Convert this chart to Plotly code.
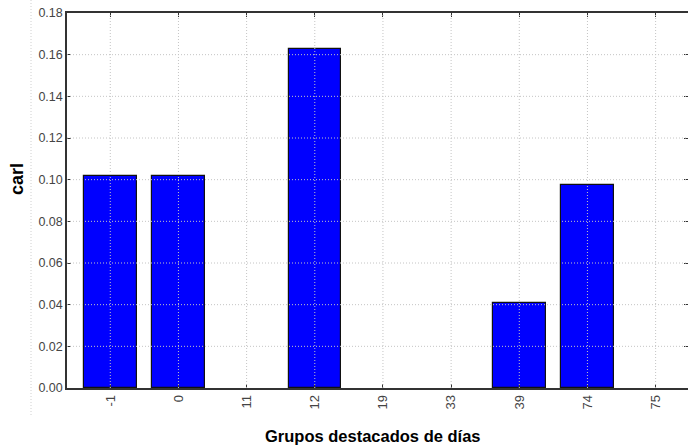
import plotly.graph_objects as go

categories = ["-1", "0", "11", "12", "19", "33", "39", "74", "75"]
values = [0.102, 0.102, 0.0, 0.1625, 0.0, 0.0, 0.0408, 0.0975, 0.0]
y_ticks = [0.00, 0.02, 0.04, 0.06, 0.08, 0.10, 0.12, 0.14, 0.16, 0.18]
y_tick_labels = ["%.2f" % v for v in y_ticks]

W, H = 688, 447
ML, MT, MB, MR = 67, 13, 59, 0
PW = W - ML - MR
PH = H - MT - MB

fig = go.Figure()
fig.add_trace(go.Bar(
    x=list(range(len(categories))), y=values, width=0.77,
    marker=dict(color="#0000ff",
                line=dict(color="#111111", width=[1.2 if v > 0 else 0 for v in values])),
))

grid_col = "#c4c4c4"
dot = "1px,2px"
shapes = []
for v in y_ticks[1:-1]:
    shapes.append(dict(type="line", xref="paper", yref="y", x0=0, x1=1, y0=v, y1=v,
                       line=dict(color=grid_col, width=1, dash=dot), layer="above"))
for i in range(len(categories)):
    shapes.append(dict(type="line", xref="x", yref="paper", x0=i, x1=i, y0=0, y1=1,
                       line=dict(color=grid_col, width=1, dash=dot), layer="above"))
# faint dotted border line at the left of the figure
shapes.append(dict(type="line", xref="paper", yref="paper",
                   x0=(31 - ML) / PW, x1=(31 - ML) / PW,
                   y0=1 + MT / PH, y1=-(415 - (MT + PH)) / PH,
                   line=dict(color="#d0d0d0", width=1, dash=dot), layer="above"))

axis_common = dict(showline=True, linecolor="#333333", linewidth=1.5, mirror="ticks",
                   ticks="inside", ticklen=4, tickcolor="#333333", showgrid=False,
                   zeroline=False)

fig.update_layout(
    width=W, height=H,
    margin=dict(l=ML, r=MR, t=MT, b=MB, autoexpand=False),
    plot_bgcolor="white", paper_bgcolor="white",
    showlegend=False, bargap=0,
    shapes=shapes,
    xaxis=dict(axis_common, range=[-0.635, 8.475], tickmode="array",
               tickvals=list(range(len(categories))), ticktext=categories, tickangle=-90,
               tickfont=dict(family="Liberation Sans, Arial, sans-serif", size=13, color="#444444")),
    yaxis=dict(axis_common, range=[0, 0.18], tickmode="array", tickvals=y_ticks,
               ticktext=y_tick_labels,
               tickfont=dict(family="Liberation Sans, Arial, sans-serif", size=12.5, color="#444444")),
    annotations=[
        dict(text="<b>Grupos destacados de días</b>", xref="paper", yref="paper",
             x=(372 - ML) / PW, y=-(436 - (MT + PH)) / PH, xanchor="center", yanchor="middle",
             showarrow=False, font=dict(family="Liberation Sans, Arial, sans-serif", size=16.5, color="black")),
        dict(text="<b>carl</b>", xref="paper", yref="paper", textangle=-90,
             x=(17 - ML) / PW, y=1 - (179 - MT) / PH, xanchor="center", yanchor="middle",
             showarrow=False, font=dict(family="Liberation Sans, Arial, sans-serif", size=18, color="black")),
    ],
)
fig.write_html("out.html", config={"displayModeBar": False},
               post_script="document.body.style.margin='0';")
